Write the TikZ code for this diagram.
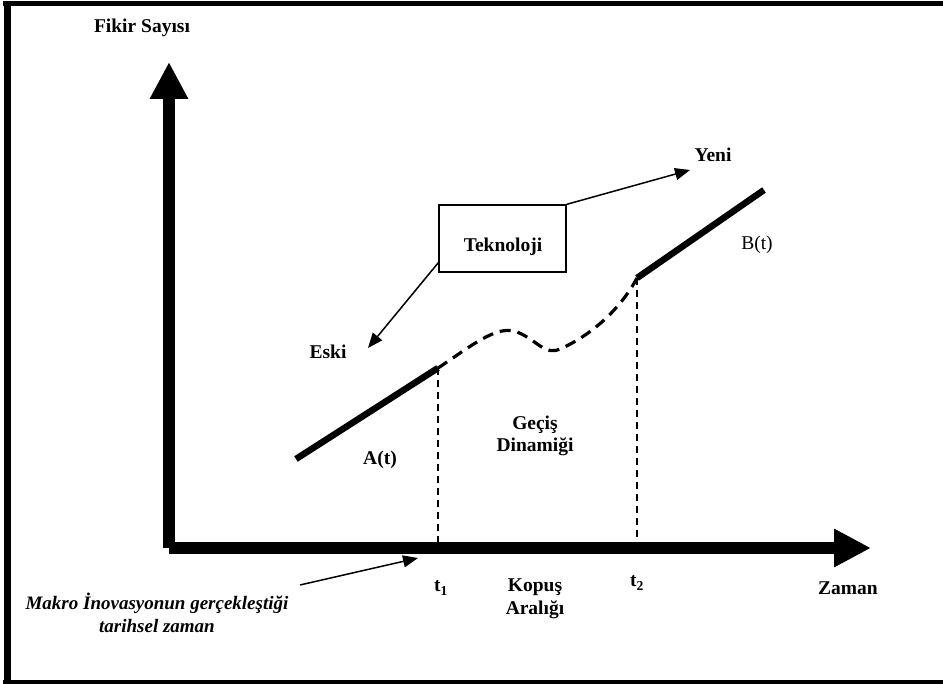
\documentclass[tikz,border=0pt]{standalone}
\usepackage{fontspec}
\setmainfont{Liberation Serif}
\usetikzlibrary{arrows.meta}
\begin{document}
\begin{tikzpicture}[x=1pt,y=-1pt,
  txt/.style={inner sep=0pt,font=\fontsize{19.5}{22.5}\selectfont\bfseries,align=center},
  plain/.style={inner sep=0pt,font=\fontsize{19.5}{22.5}\selectfont},
  axis/.style={line width=12pt,-{Triangle[length=37pt,width=36pt]}},
  pointer/.style={line width=1.5pt,-{Triangle[length=15pt,width=12pt]}},
  curve/.style={line width=6.5pt},
  gap/.style={line width=3.2pt,dash pattern=on 11pt off 7pt},
  marker/.style={line width=1.4pt,dash pattern=on 7pt off 5pt},
  techbox/.style={draw,line width=1.3pt,minimum width=127pt,minimum height=67pt,inner sep=0pt}]
\useasboundingbox (0,0) rectangle (943,684);
% outer frame (top, left, bottom)
\draw[line width=5pt] (3,4) -- (943,4);
\draw[line width=7pt] (7,2) -- (7,684);
\draw[line width=4pt] (3,682) -- (943,682);

% axes
\coordinate (o) at (169,548);
\coordinate (ytip) at (169,62);
\coordinate (xtip) at (871,548);
\draw[axis] (o) -- (ytip);
\draw[axis] (o) -- (xtip);
\node[txt] (ylab) at (142,28) {Fikir Sayısı};
\node[txt] (xlab) at (848,588) {Zaman};

% old and new technology trajectories
\coordinate (a0) at (296,459);
\coordinate (a1) at (438,368);
\coordinate (b0) at (637,278);
\coordinate (b1) at (764,190);
\draw[curve] (a0) -- (a1);
\draw[curve] (b0) -- (b1);
\draw[gap] (a1) .. controls (470,347) and (497,324) .. (517,332)
  .. controls (537,340) and (545,356) .. (560,349)
  .. controls (590,336) and (620,310) .. (b0);

% break interval markers
\draw[marker] (a1) -- (a1 |- o);
\draw[marker] (b0) -- (b0 |- o);

% technology box and its pointers
\node[techbox] (tek) at (502.5,238.5) {};
\node[txt] (teklbl) at (503,247) {Teknoloji};
\coordinate (yenitip) at (690,170);
\coordinate (eskitip) at (368,348);
\draw[pointer] (tek.north east) -- (yenitip);
\draw[pointer] ([yshift=10pt]tek.south west) -- (eskitip);
\node[txt] (yeni) at (713,155) {Yeni};
\node[txt] (eski) at (328,352) {Eski};

% labels
\node[txt] (alab) at (380,460) {A(t)};
\node[plain] (blab) at (757,245) {B(t)};
\node[txt] (gecis) at (535,436) {Geçiş\\Dinamiği};
\node[txt] (kopus) at (535,599) {Kopuş\\Aralığı};
\node[txt] (t1) at (441,588) {t\textsubscript{1}};
\node[txt] (t2) at (637,583) {t\textsubscript{2}};

% historical time of the macro innovation
\node[txt,font=\fontsize{19}{23}\selectfont\bfseries\itshape] (makro) at (157,613)
  {Makro İnovasyonun gerçekleştiği\\tarihsel zaman};
\coordinate (makrotail) at (300,585);
\coordinate (makrotip) at (418,558);
\draw[pointer] (makrotail) -- (makrotip);
\end{tikzpicture}
\end{document}
